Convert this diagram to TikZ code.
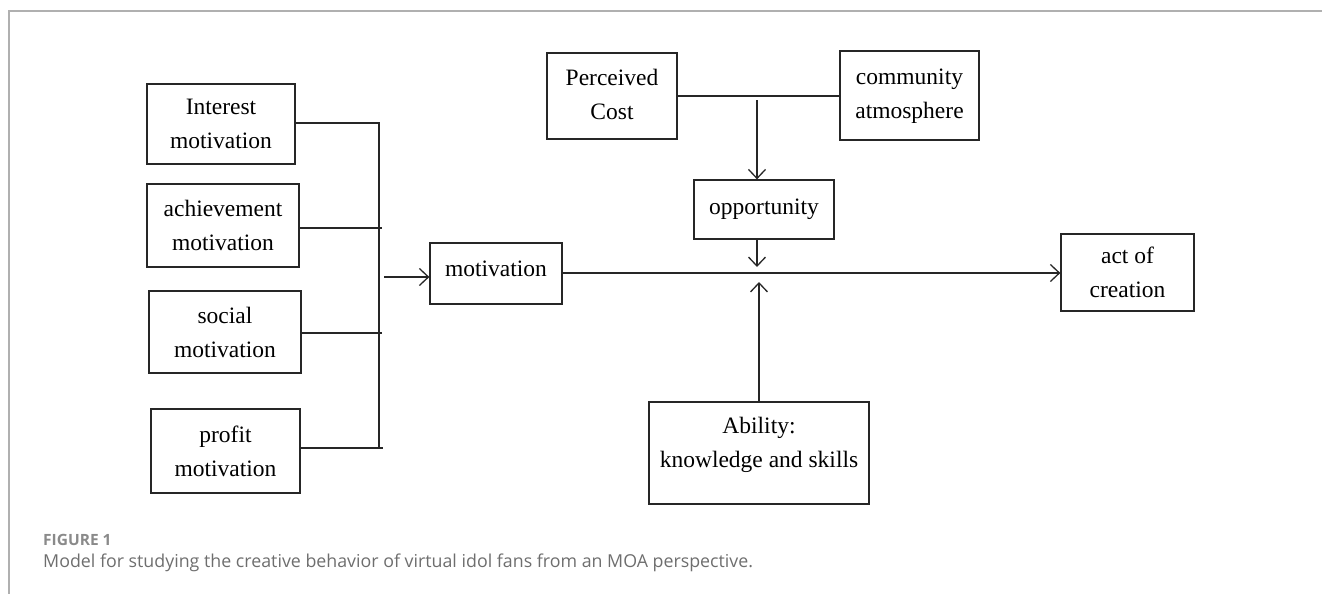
\documentclass[tikz,border=0pt]{standalone}
\usepackage{fontspec}
\setmainfont{Liberation Serif}
\newfontfamily\capfont{Open Sans}
\usetikzlibrary{arrows.meta}
\definecolor{framegray}{HTML}{B0B0B0}
\definecolor{capgray}{HTML}{6E6E6E}
\definecolor{capgrayb}{HTML}{8A8A8A}
\tikzset{
  box/.style={draw=black!85, line width=1.3pt, align=center, inner sep=0pt,
    font=\fontsize{23.5}{34}\selectfont},
  conn/.style={draw=black!85, line width=1.3pt},
  arr/.style={conn, -{Straight Barb[length=9pt,width=17pt,line width=1.3pt]}},
}
\begin{document}
\begin{tikzpicture}[x=1pt,y=-1pt]
\useasboundingbox (0,0) rectangle (1322,594);
% frame
\draw[framegray, line width=1.6pt] (1322,11) -- (9,11) -- (9,594);

% left motivation boxes
\node[box, minimum width=148pt, minimum height=80pt] (interest) at (221,124) {Interest\\motivation};
\node[box, minimum width=152pt, minimum height=83pt] (achieve) at (223,225.5) {achievement\\motivation};
\node[box, minimum width=152pt, minimum height=82pt] (social) at (225,332) {social\\motivation};
\node[box, minimum width=149pt, minimum height=84pt] (profit) at (225.5,451) {profit\\motivation};

% collector bar
\coordinate (bartop) at (379,123);
\coordinate (barbot) at (379,448);
\coordinate (jA) at (382,228);
\coordinate (jS) at (382,333);
\coordinate (jP) at (383,448);
\draw[conn] (interest.east |- bartop) -- (bartop) -- (barbot);
\draw[conn] (achieve.east |- jA) -- (jA);
\draw[conn] (social.east |- jS) -- (jS);
\draw[conn] (profit.east |- jP) -- (jP);

% motivation
\node[box, minimum width=132pt, minimum height=61pt, text depth=10pt] (motiv) at (496,273.5) {motivation};
\coordinate (inA) at (384,277);
\draw[arr] (inA) -- (motiv.west |- inA);

% act of creation
\node[box, minimum width=133pt, minimum height=77pt] (act) at (1127.5,272.5) {act of\\creation};
\coordinate (mainy) at (600,273);
\draw[arr] (motiv.east |- mainy) -- (act.west |- mainy);

% top boxes
\coordinate (topy) at (700,96);
\node[box, minimum width=130pt, minimum height=86pt, text depth=4pt] (cost) at (612,96) {Perceived\\Cost};
\node[box, minimum width=139pt, minimum height=89pt, text depth=4pt] (comm) at (909.5,95.5) {community\\atmosphere};
\draw[conn] (cost.east |- topy) -- (comm.west |- topy);

% opportunity
\node[box, minimum width=140pt, minimum height=59pt, text depth=6pt] (opp) at (764,209.5) {opportunity};
\coordinate (oppin) at (757,100);
\coordinate (oppout) at (757,267);
\draw[arr] (oppin) -- (oppin |- opp.north);
\draw[arr] (oppout |- opp.south) -- (oppout);

% ability
\node[box, minimum width=220pt, minimum height=102pt, text depth=22pt] (abil) at (759,453) {Ability:\\knowledge and skills};
\coordinate (abilout) at (759,282);
\draw[arr] (abil.north) -- (abilout);

% caption
\node[anchor=base west, inner sep=0pt, text=capgrayb, font=\capfont\bfseries\fontsize{15.5}{17}\selectfont] (figlab) at (43,545) {FIGURE 1};
\node[anchor=base west, inner sep=0pt, text=capgray, font=\capfont\fontsize{17.8}{20}\selectfont] (caption) at (43,567) {Model for studying the creative behavior of virtual idol fans from an MOA perspective.};
\end{tikzpicture}
\end{document}
